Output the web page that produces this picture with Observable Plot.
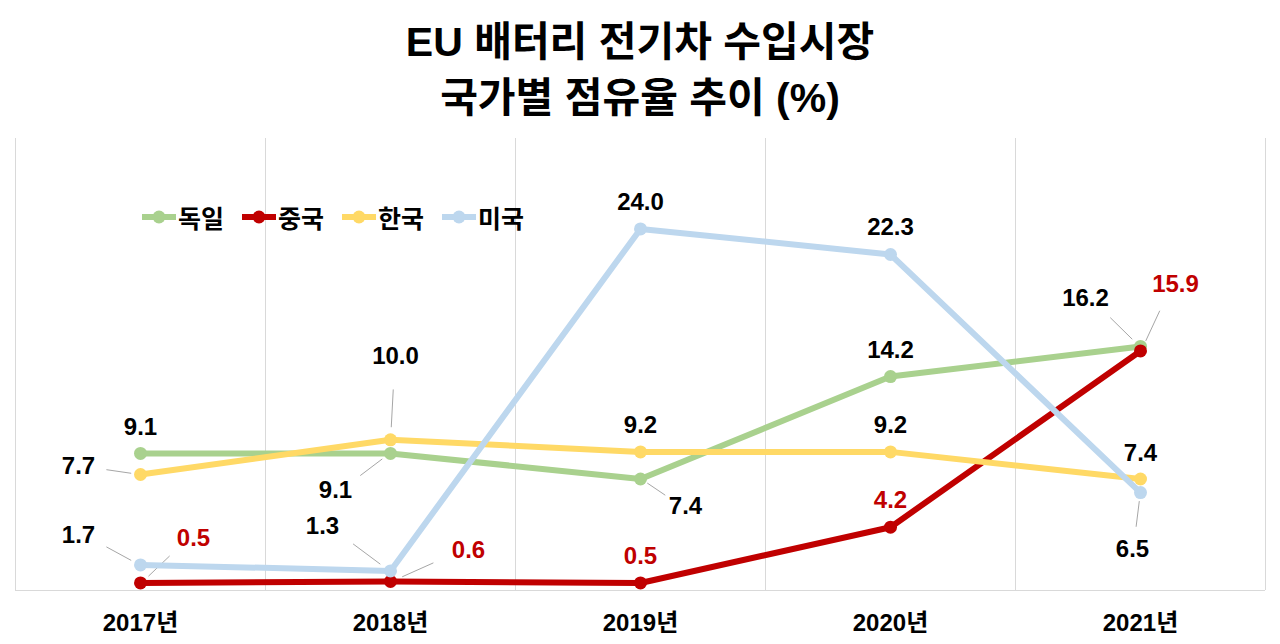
<!DOCTYPE html>
<html><head><meta charset="utf-8">
<script src="https://cdn.jsdelivr.net/npm/d3@7"></script>
<script src="https://cdn.jsdelivr.net/npm/@observablehq/plot@0.6"></script>
<style>
body{margin:0;background:#fff;font-family:"Liberation Sans","Noto Sans CJK KR",sans-serif;}
#wrap{position:relative;width:1280px;height:644px;}
#title{height:130px;text-align:center;font-family:"Liberation Sans","Noto Sans CJK KR",sans-serif;font-weight:bold;font-size:41px;line-height:56px;padding-top:14px;box-sizing:border-box;color:#000;}
#legend{position:absolute;left:140px;top:199px;display:flex;gap:16px;font-weight:bold;font-size:25px;font-family:"Noto Sans CJK KR",sans-serif;align-items:center;}
#legend span{display:flex;align-items:center;}
</style></head><body>
<div id="wrap"><div id="title">EU 배터리 전기차 수입시장<br>국가별 점유율 추이 (%)</div><div id="chart"></div><div id="legend"></div></div>
<script>
const years = ["2017년","2018년","2019년","2020년","2021년"];
const seriesNames = ["독일","중국","한국","미국"];
const colors = ["#a9d18e","#c00000","#ffd966","#bdd7ee"];
const germany = [9.1,9.1,7.4,14.2,16.2];
const china = [0.5,0.6,0.5,4.2,15.9];
const korea = [7.7,10.0,9.2,9.2,7.4];
const usa = [1.7,1.3,24.0,22.3,6.5];
// label offsets (px) per series per year
const offG = [[0,-26],[-55,37],[45,27],[0,-26],[-55,-48]];
const offC = [[53,-45],[78,-31],[0,-27],[0,-27],[35,-67]];
const offK = [[-62,-8],[5,-84],[0,-27],[0,-27],[0,-26]];
const offU = [[-62,-30],[-68,-45],[0,-27],[0,-27],[-8,57]];
const labelColors = ["#000","#c00000","#000","#000"];

const vals=[germany,china,korea,usa], offs=[offG,offC,offK,offU];
const data=[];
vals.forEach((v,s)=>v.forEach((y,i)=>data.push({s,name:seriesNames[s],i,y,dx:offs[s][i][0],dy:offs[s][i][1]})));
const leaders=data.filter(d=>Math.hypot(d.dx,d.dy)>32);

const marks=[
  Plot.ruleX(d3.range(-0.5,5,1),{stroke:"#d9d9d9",strokeWidth:1}),
  Plot.ruleY([0],{stroke:"#d9d9d9"}),
  Plot.link(leaders,{x1:"i",y1:"y",x2:"i",y2:"y",stroke:"#a6a6a6",strokeWidth:1})
];
for(let s=0;s<4;s++){
  const d=data.filter(e=>e.s===s);
  marks.push(Plot.line(d,{x:"i",y:"y",stroke:colors[s],strokeWidth:6}));
  marks.push(Plot.dot(d,{x:"i",y:"y",fill:colors[s],r:6.5}));
}
for(const d of data){
  marks.push(Plot.text([d],{x:"i",y:"y",text:e=>e.y.toFixed(1),dx:d.dx,dy:d.dy,fill:labelColors[d.s],fontSize:24,fontWeight:"bold"}));
}
const plot=Plot.plot({
  width:1280,height:514,marginLeft:15,marginRight:15,marginTop:8,marginBottom:54,
  x:{domain:[-0.5,4.5],ticks:[0,1,2,3,4],tickFormat:i=>years[i],tickSize:0,tickPadding:23,label:null},
  y:{domain:[0,30],axis:null},
  style:{fontSize:"24px",fontWeight:"bold",fontFamily:"'Liberation Sans','Noto Sans CJK KR',sans-serif",color:"#000"},
  marks
});
document.getElementById("chart").appendChild(plot);
const xs=plot.scale("x"), ys=plot.scale("y");
const lg=d3.select(plot).selectAll("g").filter(function(){return this.getAttribute("aria-label")==="link";});
lg.selectAll("path").each(function(_,k){
  const d=leaders[k]; if(!d) return;
  const x0=xs.apply(d.i), y0=ys.apply(d.y);
  const x2=x0+d.dx*0.55, y2=y0+d.dy*0.6;
  const x1=x0+d.dx*0.15, y1=y0+d.dy*0.15;
  d3.select(this).attr("d",`M${x1},${y1}L${x2},${y2}`);
});
const lgd=d3.select("#legend");
seriesNames.forEach((n,s)=>{
  const sp=lgd.append("span");
  sp.append("svg").attr("width",38).attr("height",20).html(`<line x1="2" x2="36" y1="10" y2="10" stroke="${colors[s]}" stroke-width="6"/><circle cx="19" cy="10" r="6.5" fill="${colors[s]}"/>`);
  sp.append("span").text(n);
});
</script></body></html>
